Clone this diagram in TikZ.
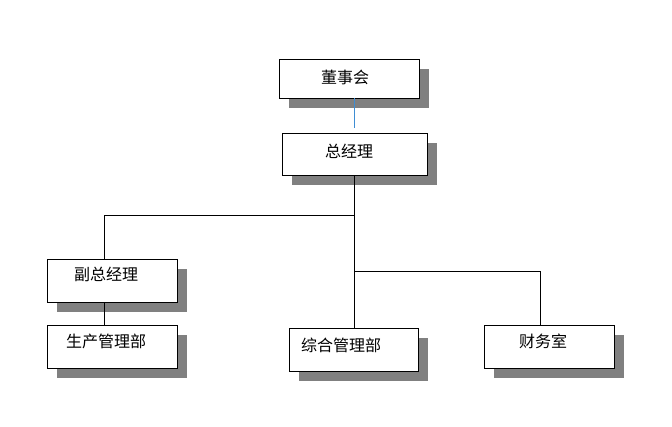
\documentclass[tikz,border=0pt]{standalone}
\usepackage{fontspec}
\newfontfamily\cjk{Noto Sans CJK SC}
\usetikzlibrary{shadows}
\begin{document}
\begin{tikzpicture}[x=1pt,y=-1pt,
  box/.style={draw=black, fill=white, line width=0.8pt, inner sep=0pt,
    drop shadow={shadow xshift=10pt, shadow yshift=-10pt, fill=black!50, opacity=1}},
  lbl/.style={font=\cjk\fontsize{16}{16}\selectfont, inner sep=0pt},
  conn/.style={draw=black, line width=0.8pt},
  bconn/.style={draw=cyan!60!blue!80!white, line width=0.8pt}]
\useasboundingbox (0,0) rectangle (672,426);
% boxes
\node[box, minimum width=140pt, minimum height=39pt] (dsh) at (349,78.5) {};
\node[box, minimum width=145pt, minimum height=42pt] (zjl) at (354.5,154) {};
\node[box, minimum width=130pt, minimum height=43pt] (fzjl) at (112,280.5) {};
\node[box, minimum width=130pt, minimum height=43pt] (sc) at (112,346.5) {};
\node[box, minimum width=129pt, minimum height=43pt] (zh) at (353.5,349.5) {};
\node[box, minimum width=130pt, minimum height=43pt] (cw) at (549,346.5) {};
% labels
\node[lbl] (t1) at (345,77) {董事会};
\node[lbl] (t2) at (349,151) {总经理};
\node[lbl] (t3) at (106,274) {副总经理};
\node[lbl] (t4) at (106,341) {生产管理部};
\node[lbl] (t5) at (341,345) {综合管理部};
\node[lbl] (t6) at (543,341) {财务室};
% connectors
\coordinate (j1) at (354,215);
\coordinate (j2) at (354,271);
\coordinate (a1) at (104,215);
\coordinate (a2) at (540,271);
\draw[bconn, shorten >=5pt] (dsh.south -| zjl.north) -- (zjl.north);
\draw[conn] (zjl.south) -- (zjl.south |- zh.north);
\draw[conn] (j1) -- (a1) -- (a1 |- fzjl.north);
\draw[conn] (a1 |- fzjl.south) -- (a1 |- sc.north);
\draw[conn] (j2) -- (a2) -- (a2 |- cw.north);
\end{tikzpicture}
\end{document}
